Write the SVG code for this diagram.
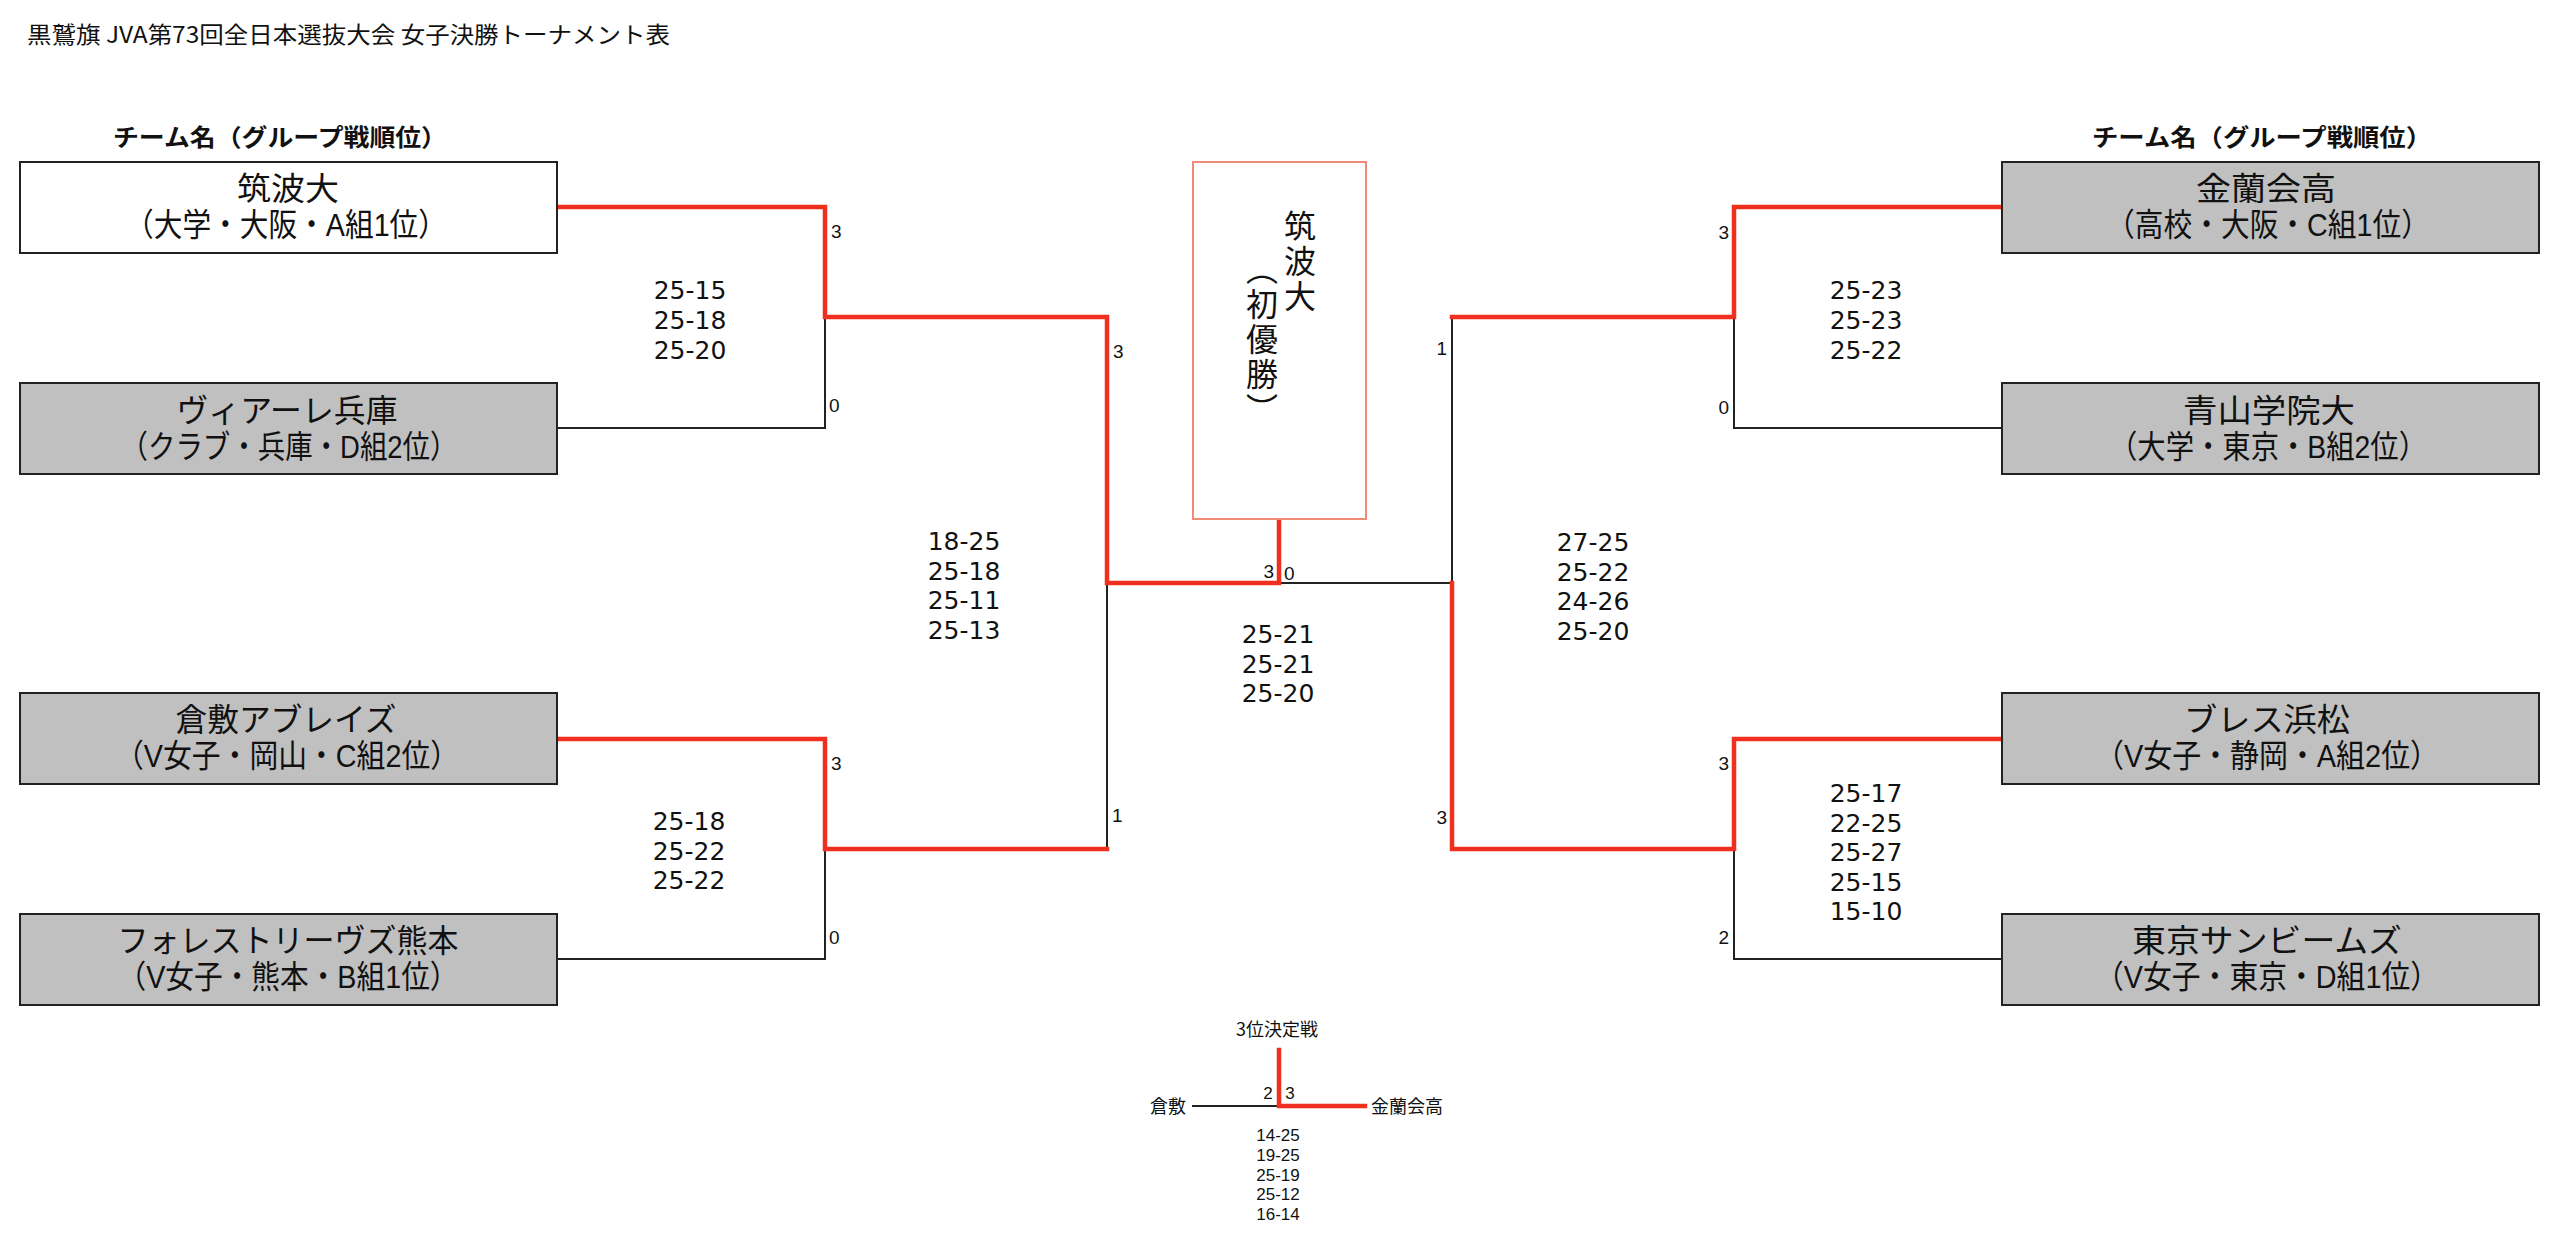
<svg xmlns="http://www.w3.org/2000/svg" width="2560" height="1235" viewBox="0 0 2560 1235" lang="ja">
<style>
text{font-family:"Noto Sans CJK JP","Noto Sans",sans-serif;fill:#111}
.title{font-size:23px}
.hdr{font-size:24px;font-weight:bold;text-anchor:middle}
.team{font-family:"Liberation Sans","Noto Sans CJK JP",sans-serif;font-size:32px;text-anchor:middle}
.box{stroke:#222;stroke-width:2}
.grey{fill:#c0c0c0}
.white{fill:#fff}
.sc{font-family:"DejaVu Sans","Liberation Sans",sans-serif;font-size:25px;text-anchor:middle}
.sm{font-size:18px;text-anchor:middle}
.sm3{font-family:"Liberation Sans",Arial,sans-serif;font-size:17px;text-anchor:middle}
.lb{font-family:"Liberation Sans",Arial,sans-serif;font-size:19px}
.end{text-anchor:end}
.win{fill:none;stroke:#f0301e;stroke-width:4.5;stroke-linejoin:miter;stroke-linecap:square}
.lose{fill:none;stroke:#222;stroke-width:2}
.vt{font-family:"Liberation Sans","Noto Sans CJK JP",sans-serif;font-size:32px;writing-mode:vertical-rl;letter-spacing:3px}
</style>
<rect width="2560" height="1235" fill="#fff"/>
<text class="title" x="27" y="43" textLength="643" lengthAdjust="spacingAndGlyphs">黒鷲旗 JVA第73回全日本選抜大会 女子決勝トーナメント表</text>
<text class="hdr" x="280" y="146" textLength="334" lengthAdjust="spacingAndGlyphs">チーム名（グループ戦順位）</text>
<text class="hdr" x="2262" y="146" textLength="340" lengthAdjust="spacingAndGlyphs">チーム名（グループ戦順位）</text>

<g id="connectors">
<path class="lose" d="M557,428H825V317M557,959H825V849M1107,849V583M1279,583H1452M2002,428H1734V317M2002,959H1734V849M1452,317V583M1192,1106H1279"/>
<path class="win" d="M557,207H825V317H1107V583H1279V519"/>
<path class="win" d="M557,739H825V849H1107"/>
<path class="win" d="M2002,207H1734V317H1452"/>
<path class="win" d="M2002,739H1734V849H1452V583"/>
<path class="win" d="M1279,1050V1106H1365"/>
<text class="lb" x="831" y="238">3</text>
<text class="lb" x="829" y="412">0</text>
<text class="lb" x="831" y="770">3</text>
<text class="lb" x="829" y="944">0</text>
<text class="lb" x="1113" y="358">3</text>
<text class="lb" x="1112" y="822">1</text>
<text class="lb end" x="1274" y="578">3</text>
<text class="lb" x="1284" y="580">0</text>
<text class="lb end" x="1447" y="355">1</text>
<text class="lb end" x="1447" y="824">3</text>
<text class="lb end" x="1729" y="239">3</text>
<text class="lb end" x="1729" y="414">0</text>
<text class="lb end" x="1729" y="770">3</text>
<text class="lb end" x="1729" y="944">2</text>
</g>

<g id="scores">
<text class="sc"><tspan x="690" y="299">25-15</tspan><tspan x="690" y="329">25-18</tspan><tspan x="690" y="359">25-20</tspan></text>
<text class="sc"><tspan x="689" y="830">25-18</tspan><tspan x="689" y="859.5">25-22</tspan><tspan x="689" y="889">25-22</tspan></text>
<text class="sc"><tspan x="964" y="550">18-25</tspan><tspan x="964" y="579.5">25-18</tspan><tspan x="964" y="609">25-11</tspan><tspan x="964" y="638.5">25-13</tspan></text>
<text class="sc"><tspan x="1278" y="643">25-21</tspan><tspan x="1278" y="672.5">25-21</tspan><tspan x="1278" y="702">25-20</tspan></text>
<text class="sc"><tspan x="1593" y="551">27-25</tspan><tspan x="1593" y="580.5">25-22</tspan><tspan x="1593" y="610">24-26</tspan><tspan x="1593" y="639.5">25-20</tspan></text>
<text class="sc"><tspan x="1866" y="299">25-23</tspan><tspan x="1866" y="329">25-23</tspan><tspan x="1866" y="359">25-22</tspan></text>
<text class="sc"><tspan x="1866" y="802">25-17</tspan><tspan x="1866" y="831.5">22-25</tspan><tspan x="1866" y="861">25-27</tspan><tspan x="1866" y="890.5">25-15</tspan><tspan x="1866" y="920">15-10</tspan></text>
</g>

<g id="team-tsukuba">
<rect class="box white" x="20" y="162" width="537" height="91"/>
<text class="team"><tspan x="288" y="200" textLength="102" lengthAdjust="spacingAndGlyphs">筑波大</tspan><tspan x="286" y="236" textLength="322" lengthAdjust="spacingAndGlyphs">（大学・大阪・A組1位）</tspan></text>
</g>
<g id="team-victorina">
<rect class="box grey" x="20" y="383" width="537" height="91"/>
<text class="team"><tspan x="287" y="422" textLength="221" lengthAdjust="spacingAndGlyphs">ヴィアーレ兵庫</tspan><tspan x="289" y="458" textLength="337" lengthAdjust="spacingAndGlyphs">（クラブ・兵庫・D組2位）</tspan></text>
</g>
<g id="team-kurashiki">
<rect class="box grey" x="20" y="693" width="537" height="91"/>
<text class="team"><tspan x="286" y="731" textLength="221" lengthAdjust="spacingAndGlyphs">倉敷アブレイズ</tspan><tspan x="287" y="767" textLength="344" lengthAdjust="spacingAndGlyphs">（V女子・岡山・C組2位）</tspan></text>
</g>
<g id="team-kumamoto">
<rect class="box grey" x="20" y="914" width="537" height="91"/>
<text class="team"><tspan x="288" y="952" textLength="341" lengthAdjust="spacingAndGlyphs">フォレストリーヴズ熊本</tspan><tspan x="288" y="988" textLength="341" lengthAdjust="spacingAndGlyphs">（V女子・熊本・B組1位）</tspan></text>
</g>
<g id="team-kinrankai">
<rect class="box grey" x="2002" y="162" width="537" height="91"/>
<text class="team"><tspan x="2266" y="200" textLength="140" lengthAdjust="spacingAndGlyphs">金蘭会高</tspan><tspan x="2268" y="236" textLength="324" lengthAdjust="spacingAndGlyphs">（高校・大阪・C組1位）</tspan></text>
</g>
<g id="team-aoyama">
<rect class="box grey" x="2002" y="383" width="537" height="91"/>
<text class="team"><tspan x="2269" y="422" textLength="172" lengthAdjust="spacingAndGlyphs">青山学院大</tspan><tspan x="2268" y="458" textLength="318" lengthAdjust="spacingAndGlyphs">（大学・東京・B組2位）</tspan></text>
</g>
<g id="team-hamamatsu">
<rect class="box grey" x="2002" y="693" width="537" height="91"/>
<text class="team"><tspan x="2267" y="731" textLength="166" lengthAdjust="spacingAndGlyphs">ブレス浜松</tspan><tspan x="2267" y="767" textLength="344" lengthAdjust="spacingAndGlyphs">（V女子・静岡・A組2位）</tspan></text>
</g>
<g id="team-sunbeams">
<rect class="box grey" x="2002" y="914" width="537" height="91"/>
<text class="team"><tspan x="2267" y="952" textLength="270" lengthAdjust="spacingAndGlyphs">東京サンビームズ</tspan><tspan x="2267" y="988" textLength="344" lengthAdjust="spacingAndGlyphs">（V女子・東京・D組1位）</tspan></text>
</g>

<g id="champion">
<rect x="1193" y="162" width="173" height="357" fill="#fff" stroke="#ef8a76" stroke-width="2"/>
<text class="vt"><tspan x="1297" y="210">筑波大</tspan><tspan x="1259" y="253">（初優勝）</tspan></text>
</g>

<g id="third-place">
<text class="sm" x="1277" y="1036">3位決定戦</text>
<text class="sm end" x="1186" y="1113">倉敷</text>
<text class="sm" x="1371" y="1113" style="text-anchor:start">金蘭会高</text>
<text class="lb" x="1268" y="1099" style="text-anchor:middle;font-size:17px">2</text>
<text class="lb" x="1290" y="1099" style="text-anchor:middle;font-size:17px">3</text>
<text class="sm3"><tspan x="1278" y="1141">14-25</tspan><tspan x="1278" y="1160.75">19-25</tspan><tspan x="1278" y="1180.5">25-19</tspan><tspan x="1278" y="1200.25">25-12</tspan><tspan x="1278" y="1220">16-14</tspan></text>
</g>
</svg>
